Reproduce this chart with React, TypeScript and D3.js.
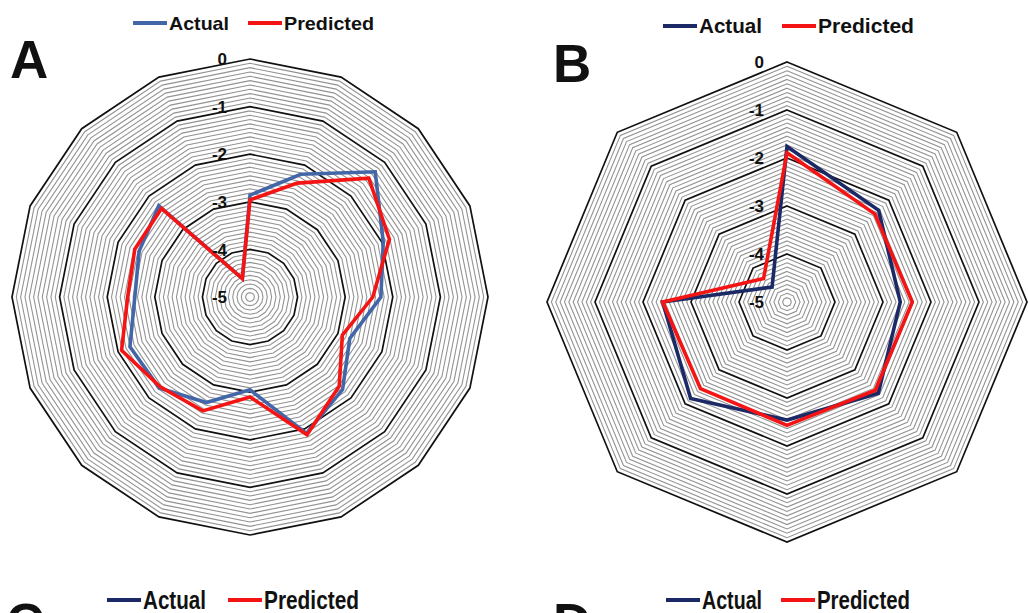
import React from "react";
import * as d3 from "d3";

// panel A: 16 axes, clockwise from the top
const actualA = [-2.86, -2.21, -1.28, -1.97, -2.25, -2.73, -2.25, -1.9, -3.05, -2.6, -2.3, -2.27, -2.58, -2.48, -2.29, -4.58];
const predictedA = [-2.96, -2.41, -1.47, -1.83, -2.42, -2.9, -2.35, -1.87, -2.9, -2.41, -2.33, -2.08, -2.43, -2.38, -2.37, -4.58];

// panel B: 8 axes
const actualB = [-1.76, -2.3, -2.64, -2.31, -2.54, -2.16, -2.41, -4.56];
const predictedB = [-1.89, -2.41, -2.39, -2.4, -2.43, -2.45, -2.41, -4.31];

const ringTicks = [0, -1, -2, -3, -4, -5];
const seriesNames = ["Actual", "Predicted"];

const FONT = "'Liberation Sans', Arial, sans-serif";
const RED = "#f51414";

function Radar({ cx, cy, radius, actual, predicted, actualColor }) {
  const n = actual.length;
  const r = d3.scaleLinear().domain([-5, 0]).range([0, radius]);
  const angle = (i) => (i * 2 * Math.PI) / n;
  const minorSteps = 11; // gray rings between each black ring

  const ringPath = (v) => {
    const pts = d3.range(n).map((i) => [angle(i), r(v)]);
    return d3.lineRadial().curve(d3.curveLinearClosed)(pts);
  };
  const seriesPath = (vals) =>
    d3.lineRadial().curve(d3.curveLinearClosed)(vals.map((v, i) => [angle(i), r(v)]));

  const minor = [];
  for (let k = 0; k < 5 * minorSteps; k++) {
    if (k % minorSteps !== 0) minor.push(-5 + k / minorSteps);
  }

  return (
    <g transform={`translate(${cx},${cy})`}>
      {minor.map((v) => (
        <path key={v} d={ringPath(v)} fill="none" stroke="#939393" strokeWidth={1.1} />
      ))}
      {ringTicks.filter((v) => v > -5).map((v) => (
        <path key={v} d={ringPath(v)} fill="none" stroke="#111" strokeWidth={1.7} />
      ))}
      <path d={seriesPath(actual)} fill="none" stroke={actualColor} strokeWidth={3.6} strokeLinejoin="miter" />
      <path d={seriesPath(predicted)} fill="none" stroke={RED} strokeWidth={3.6} strokeLinejoin="miter" />
      {ringTicks.map((v) => (
        <text
          key={v}
          x={-23}
          y={-r(v)}
          dy="0.36em"
          textAnchor="end"
          fontFamily={FONT}
          fontWeight="bold"
          fontSize={17}
          fill="#111"
        >
          {v}
        </text>
      ))}
    </g>
  );
}

function Legend({ x, y, color, size, widths, gap }) {
  // widths: [actual text width, predicted text width]
  const lineLen = 34;
  const x2 = x + lineLen + 2 + widths[0] + gap;
  return (
    <g fontFamily={FONT} fontWeight="bold" fontSize={size} fill="#111">
      <line x1={x} x2={x + lineLen} y1={y} y2={y} stroke={color} strokeWidth={4} />
      <text x={x + lineLen + 2} y={y} dy="0.36em" textLength={widths[0]} lengthAdjust="spacingAndGlyphs">
        {seriesNames[0]}
      </text>
      <line x1={x2} x2={x2 + lineLen} y1={y} y2={y} stroke={RED} strokeWidth={4} />
      <text x={x2 + lineLen + 2} y={y} dy="0.36em" textLength={widths[1]} lengthAdjust="spacingAndGlyphs">
        {seriesNames[1]}
      </text>
    </g>
  );
}

export default function App() {
  return (
    <svg
      width={1029}
      height={613}
      style={{ position: "absolute", left: 0, top: 0, background: "#fff" }}
    >
      <Legend x={133} y={23} color="#4266a8" size={19} widths={[60, 90]} gap={19} />
      <Legend x={663} y={26} color="#1b2a66" size={20} widths={[63, 96]} gap={20} />
      <Legend x={107} y={600} color="#1b2a66" size={25} widths={[63, 95]} gap={22} />
      <Legend x={666} y={600} color="#1b2a66" size={25} widths={[60, 93]} gap={19} />

      <text x={10} y={78} fontFamily={FONT} fontWeight="bold" fontSize={53} fill="#111">A</text>
      <text x={553} y={82} fontFamily={FONT} fontWeight="bold" fontSize={53} fill="#111">B</text>
      {/* panel letters C and D run off the bottom edge, as in the source figure */}
      <text x={6} y={641} fontFamily={FONT} fontWeight="bold" fontSize={53} fill="#111">C</text>
      <text x={553} y={641} fontFamily={FONT} fontWeight="bold" fontSize={53} fill="#111">D</text>

      <Radar cx={250} cy={297} radius={238} actual={actualA} predicted={predictedA} actualColor="#4266a8" />
      <Radar cx={787} cy={302} radius={240} actual={actualB} predicted={predictedB} actualColor="#1b2a66" />
    </svg>
  );
}
